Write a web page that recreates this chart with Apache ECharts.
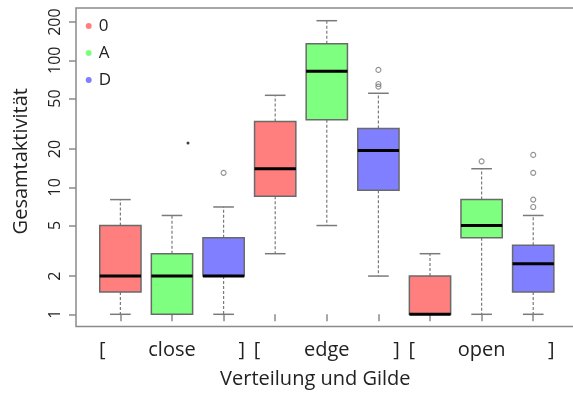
<!DOCTYPE html>
<html>
<head>
<meta charset="utf-8">
<script src="https://cdn.jsdelivr.net/npm/echarts@6/dist/echarts.min.js"></script>
<style>html,body{margin:0;padding:0;background:#fff;}#c{width:573px;height:398px;}</style>
</head>
<body>
<div id="c"></div>
<script>
// ---- data ----
const verteilung = ['close', 'edge', 'open'];
const gilden = ['0', 'A', 'D'];
const gildeColors = ['#FF7F7F', '#7FFF7F', '#7F7FFF'];
// per Gilde, one entry per Verteilung: [lower whisker, Q1, median, Q3, upper whisker]
const stats0 = [[1, 1.5, 2, 5, 8], [3, 8.5, 14, 33, 53], [1, 1, 1, 2, 3]];
const statsA = [[1, 1, 2, 3, 6], [5, 34, 82, 135, 205], [1, 4, 5, 8, 14]];
const statsD = [[1, 2, 2, 4, 7], [2, 9.5, 19.5, 29, 55], [1, 1.5, 2.5, 3.5, 6]];
const outliers0 = [[], [], []];
const outliersA = [[], [], [16]];
const outliersD = [[13], [84, 65, 62], [18, 13, 8, 7]];
const strayDots = [[2.31, 22.3]];
const yTicks = [1, 2, 5, 10, 20, 50, 100, 200];
const xName = 'Verteilung und Gilde';
const yName = 'Gesamtaktivität';

// ---- build ----
const FONT = '"Open Sans", sans-serif';
const lg = v => Math.log10(v);
const allStats = [stats0, statsA, statsD];
const allOut = [outliers0, outliersA, outliersD];
const pos = (vi, gi) => vi * 3 + gi + 1;

function renderBox(params, api) {
  const x = api.value(0);
  const lo = api.coord([x, api.value(1)]);
  const q1 = api.coord([x, api.value(2)]);
  const md = api.coord([x, api.value(3)]);
  const q3 = api.coord([x, api.value(4)]);
  const hi = api.coord([x, api.value(5)]);
  const bw = api.size([1, 0])[0] * 0.8;
  const cx = lo[0];
  const color = api.visual('color');
  const grey = '#7a7a7a';
  return {
    type: 'group',
    children: [
      { type: 'line', shape: { x1: cx, y1: q3[1], x2: cx, y2: hi[1] }, style: { stroke: grey, lineWidth: 1.2, lineDash: [3, 2] } },
      { type: 'line', shape: { x1: cx, y1: q1[1], x2: cx, y2: lo[1] }, style: { stroke: grey, lineWidth: 1.2, lineDash: [3, 2] } },
      { type: 'line', shape: { x1: cx - bw / 4, y1: hi[1], x2: cx + bw / 4, y2: hi[1] }, style: { stroke: grey, lineWidth: 1.5 } },
      { type: 'line', shape: { x1: cx - bw / 4, y1: lo[1], x2: cx + bw / 4, y2: lo[1] }, style: { stroke: grey, lineWidth: 1.5 } },
      { type: 'rect', shape: { x: cx - bw / 2, y: q3[1], width: bw, height: q1[1] - q3[1] }, style: { fill: color, stroke: '#6a6a6a', lineWidth: 1.5 } },
      { type: 'line', shape: { x1: cx - bw / 2, y1: md[1], x2: cx + bw / 2, y2: md[1] }, style: { stroke: '#000', lineWidth: 3 } }
    ]
  };
}

const series = [];
gilden.forEach((g, gi) => {
  series.push({
    name: g,
    type: 'custom',
    renderItem: renderBox,
    itemStyle: { color: gildeColors[gi] },
    encode: { x: 0, y: [1, 2, 3, 4, 5] },
    data: verteilung.map((v, vi) => [pos(vi, gi)].concat(allStats[gi][vi].map(lg))),
    z: 2
  });
});
const outData = [];
gilden.forEach((g, gi) => verteilung.forEach((v, vi) => allOut[gi][vi].forEach(o => outData.push([pos(vi, gi), lg(o)]))));
series.push({
  type: 'scatter', symbol: 'circle', symbolSize: 5,
  itemStyle: { color: 'rgba(255,255,255,0)', borderColor: '#777', borderWidth: 1.1 },
  data: outData, z: 3, silent: true
});
series.push({
  type: 'scatter', symbol: 'circle', symbolSize: 3,
  itemStyle: { color: '#111' },
  data: strayDots.map(d => [d[0], lg(d[1])]), z: 3, silent: true
});

const labelMap = {};
verteilung.forEach((v, vi) => { labelMap[pos(vi, 1)] = v; });

const chart = echarts.init(document.getElementById('c'), null, { renderer: 'canvas' });
chart.setOption({
  animation: false,
  backgroundColor: '#fff',
  grid: { left: 76, top: 8, width: 501.6, height: 318.5, show: true, borderColor: '#8a8a8a', borderWidth: 1.5, backgroundColor: 'transparent', containLabel: false, outerBoundsMode: 'none' },
  legend: {
    orient: 'vertical', left: 80.7, top: 12, icon: 'circle', itemWidth: 10, itemHeight: 6, itemGap: 9,
    selectedMode: false,
    textStyle: { fontFamily: FONT, fontSize: 17, lineHeight: 18, color: '#222' },
    data: gilden
  },
  xAxis: {
    type: 'value', min: 0.14, max: 9.86,
    name: xName, nameLocation: 'middle', nameGap: 43,
    nameTextStyle: { fontFamily: FONT, fontSize: 20, color: '#222', padding: [0, 23, 0, 0] },
    axisLine: { show: false },
    splitLine: { show: false },
    axisTick: { show: true, length: 7, lineStyle: { color: '#8a8a8a', width: 1.5 }, customValues: [1, 2, 3, 4, 5, 6, 7, 8, 9] },
    axisLabel: {
      customValues: [2, 5, 8], margin: 14, color: '#222', fontFamily: FONT, fontSize: 20,
      formatter: v => '{l|[}{m|' + (labelMap[Math.round(v)] || '') + '}{r|]}',
      rich: {
        l: { width: 22, align: 'left', fontFamily: FONT, fontSize: 20, color: '#222' },
        m: { width: 102, align: 'center', fontFamily: FONT, fontSize: 20, color: '#222' },
        r: { width: 22, align: 'right', fontFamily: FONT, fontSize: 20, color: '#222' }
      }
    }
  },
  yAxis: {
    type: 'value', min: -0.0961, max: 2.4118,
    name: yName, nameLocation: 'middle', nameGap: 45,
    nameTextStyle: { fontFamily: FONT, fontSize: 20, color: '#222', padding: [0, 0, 0, 12] },
    axisLine: { show: false },
    splitLine: { show: false },
    axisTick: { show: true, length: 7, lineStyle: { color: '#8a8a8a', width: 1.5 }, customValues: yTicks.map(lg) },
    axisLabel: {
      customValues: yTicks.map(lg), rotate: 90, margin: 13, color: '#222', fontFamily: FONT, fontSize: 16,
      formatter: v => String(Math.round(Math.pow(10, v)))
    }
  },
  series: series
});
</script>
</body>
</html>
